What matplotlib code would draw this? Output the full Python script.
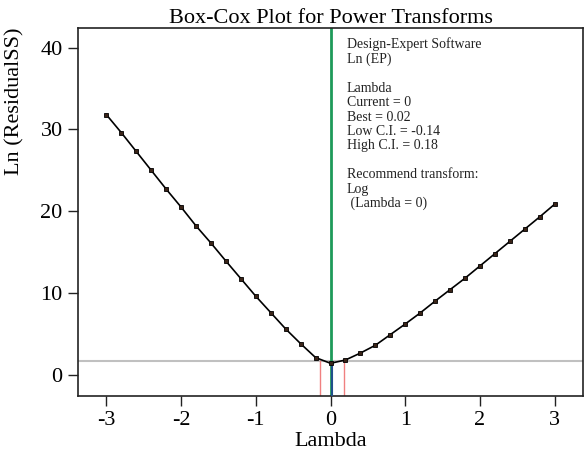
import numpy as np
import matplotlib.pyplot as plt

plt.rcParams['font.family'] = ['Liberation Serif', 'DejaVu Serif']
plt.rcParams['axes.unicode_minus'] = False

# Box-Cox data
lambdas = [-3.0, -2.8, -2.6, -2.4, -2.2, -2.0, -1.8, -1.6, -1.4, -1.2, -1.0,
           -0.8, -0.6, -0.4, -0.2, 0.0, 0.2, 0.4, 0.6, 0.8, 1.0,
           1.2, 1.4, 1.6, 1.8, 2.0, 2.2, 2.4, 2.6, 2.8, 3.0]
ln_ss = [31.8, 29.6, 27.3, 25.0, 22.7, 20.5, 18.2, 16.1, 13.9, 11.75, 9.6,
         7.6, 5.6, 3.8, 2.1, 1.4, 1.8, 2.65, 3.6, 4.9, 6.2,
         7.55, 9.0, 10.4, 11.8, 13.3, 14.8, 16.3, 17.8, 19.3, 20.85]

current = 0
best = 0.02
low_ci = -0.14
high_ci = 0.18
ci_level = 1.7

info = ["Design-Expert Software", "Ln (EP)", "",
        "Lambda", "Current = 0", "Best = 0.02", "Low C.I. = -0.14",
        "High C.I. = 0.18", "", "Recommend transform:", "Log", " (Lambda = 0)"]

fig = plt.figure(figsize=(5.84, 4.5), dpi=100)
ax = fig.add_axes([78 / 584, 54 / 450, 505 / 584, 368 / 450])

xmin, xmax = -3.38, 3.38
ymin, ymax = -2.6, 42.4
ax.set_xlim(xmin, xmax)
ax.set_ylim(ymin, ymax)

# reference lines
ax.axhline(ci_level, color='#c0c0c0', lw=1.5, zorder=1)
ax.axvline(current, color='#1e9a5a', lw=2, zorder=2)
best_y = np.interp(best, lambdas, ln_ss)
ax.plot([best, best], [ymin, best_y], color='#1f4f8a', lw=1.5, zorder=3)
for ci in (low_ci, high_ci):
    ax.plot([ci, ci], [ymin, ci_level], color='#f08080', lw=1, zorder=1)

ax.plot(lambdas, ln_ss, color='black', lw=1.2, marker='s', ms=3.5,
        mfc='#3a2418', mec='black', mew=0.6, zorder=4)

ax.set_xticks([-3, -2, -1, 0, 1, 2, 3])
ax.set_yticks([0, 10, 20, 30, 40])
ax.tick_params(direction='out', length=7, width=1, labelsize=16,
               color='#222222', pad=4)
for s in ax.spines.values():
    s.set_color('#222222')
    s.set_linewidth(1.2)

ax.set_xlabel('Lambda', fontsize=16, labelpad=1)
ax.set_ylabel('Ln (ResidualSS)', fontsize=16)
ax.yaxis.set_label_coords(-0.105, 0.80)
ax.set_title('Box-Cox Plot for Power Transforms', fontsize=16, pad=3)

ax.text(0.532, 0.975, "\n".join(info), transform=ax.transAxes,
        fontsize=10, va='top', ha='left', linespacing=1.14, color='#222222')

fig.savefig('out.png', dpi=100)
